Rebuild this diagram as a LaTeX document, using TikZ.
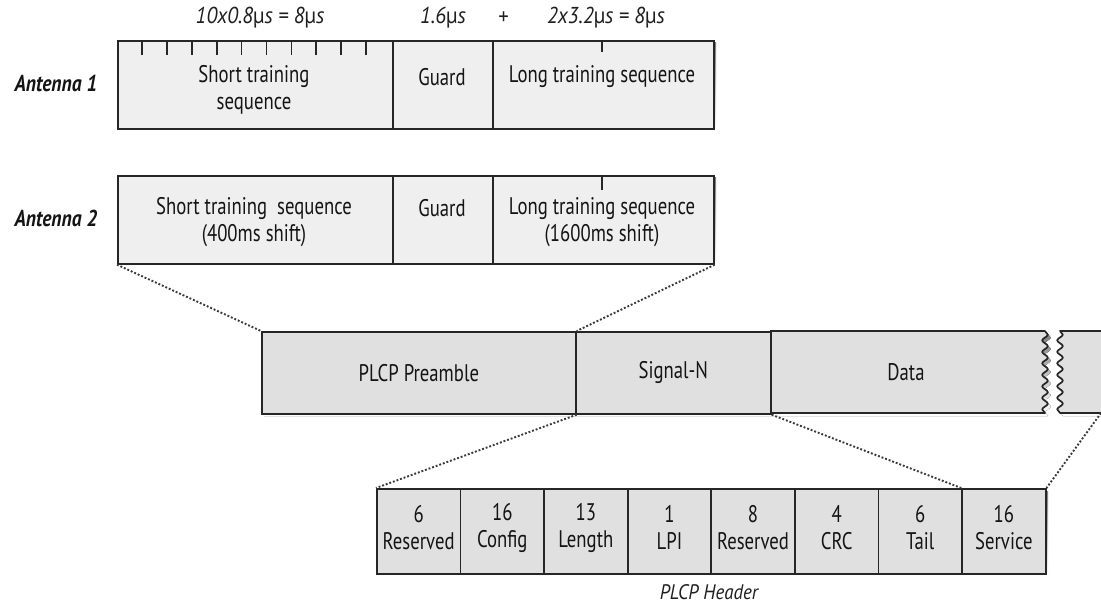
\documentclass[tikz,border=0pt]{standalone}
\usepackage{fontspec}
\setmainfont{PT Sans}[FakeStretch=0.78]
\newfontfamily\labfont{PT Sans}[FakeStretch=0.9]
\newfontfamily\antfont{PT Sans}[FakeStretch=0.85]
\usetikzlibrary{decorations.pathmorphing}
\definecolor{edge}{HTML}{262626}
\definecolor{afill}{HTML}{EFEFEF}
\definecolor{mfill}{HTML}{E0E0E0}
\definecolor{shade}{HTML}{B5B5B5}
\definecolor{dotc}{HTML}{3A3A3A}
\newcommand{\mus}{{\upshape µ}s}
\tikzset{
  cell/.style={draw=edge, line width=1.7pt, rectangle, inner sep=0pt, anchor=north west},
  acell/.style={cell, fill=afill},
  mcell/.style={cell, fill=mfill},
  txt/.style={font=\fontsize{24}{27}\selectfont, align=center, inner sep=0pt, text=black!92},
  toplab/.style={font=\labfont\itshape\fontsize{23}{26}\selectfont, inner sep=0pt, text=black!88},
  hdrlab/.style={font=\labfont\itshape\fontsize{21}{24}\selectfont, inner sep=0pt, text=black!88},
  antlab/.style={font=\antfont\bfseries\itshape\fontsize{23}{26}\selectfont, inner sep=0pt, text=black!92},
  zoomline/.style={dotc, line width=1.9pt, dash pattern=on 1.9pt off 1.9pt},
  tick/.style={edge, line width=1.7pt},
  wavedec/.style={decoration={snake, amplitude=2.8pt, segment length=11.5pt}},
  frame/.style={draw=edge, line width=1.7pt, line join=round},
}
\begin{document}
\begin{tikzpicture}[x=1pt,y=-1pt]
\useasboundingbox (0,0) rectangle (1101,607);
\fill[white] (0,0) rectangle (1101,607);

% ---------- top labels
\node[toplab] (t1) at (260,18) {10x0.8\mus{} = 8\mus};
\node[toplab] (t2) at (443,18) {1.6\mus};
\node[toplab] (t3) at (503,18) {+};
\node[toplab] (t4) at (606,18) {2x3.2\mus{} = 8\mus};

% ---------- Antenna 1
\fill[shade] (120,43) rectangle (716,131);
\node[acell, minimum width=275pt, minimum height=88pt] (a1s) at (117,40) {};
\node[acell, minimum width=100pt, minimum height=88pt] (a1g) at (392,40) {};
\node[acell, minimum width=221pt, minimum height=88pt] (a1l) at (492,40) {};
\foreach \i in {0,...,9} {\draw[tick] (142+24.9*\i,40) -- (142+24.9*\i,55);}
\draw[tick] (602,40) -- (602,52);
\node[txt] (a1st) at (254,90) {Short training\\sequence};
\node[txt] (a1gt) at (442,77) {Guard};
\node[txt] (a1lt) at (602,77) {Long training sequence};
\node[antlab] (ant1) at (56,83) {Antenna 1};

% ---------- Antenna 2
\fill[shade] (120,178) rectangle (716,266);
\node[acell, minimum width=275pt, minimum height=88pt] (a2s) at (117,175) {};
\node[acell, minimum width=100pt, minimum height=88pt] (a2g) at (392,175) {};
\node[acell, minimum width=221pt, minimum height=88pt] (a2l) at (492,175) {};
\draw[tick] (602,175) -- (602,190);
\node[txt] (a2st) at (254,222) {Short training\ \ sequence\\(400ms shift)};
\node[txt] (a2gt) at (442,208) {Guard};
\node[txt] (a2lt) at (602,222) {Long training sequence\\(1600ms shift)};
\node[antlab] (ant2) at (56,218) {Antenna 2};

% ---------- main frame
\coordinate (dtl) at (770,331);
\coordinate (dtr) at (1045,331);
\coordinate (dbr) at (1045,413);
\coordinate (dbl) at (770,413);
\coordinate (rtl) at (1060,331);
\coordinate (rbl) at (1060,413);
\coordinate (rtr) at (1101,331);
\coordinate (rbr) at (1101,413);
\fill[shade] (264,334) -- (1048,334) decorate[wavedec]{-- (1048,416)} -- (264,416) -- cycle;
\fill[shade] (1101,334) -- (1063,334) decorate[wavedec]{-- (1063,416)} -- (1101,416) -- cycle;
\fill[mfill] (dtl) -- (dtr) decorate[wavedec]{-- (dbr)} -- (dbl) -- cycle;
\draw[frame] (dbl) -- (dbr) decorate[wavedec]{-- (dtr)} -- (dtl);
\fill[mfill] (rtr) -- (rtl) decorate[wavedec]{-- (rbl)} -- (rbr) -- cycle;
\draw[frame] (rtr) -- (rtl) decorate[wavedec]{-- (rbl)} -- (rbr);
\node[mcell, minimum width=314pt, minimum height=82pt] (plcp) at (261,331) {};
\node[mcell, minimum width=195pt, minimum height=82pt] (sig) at (575,331) {};
\node[txt] (plcpt) at (plcp.center) {PLCP Preamble};
\node[txt] (sigt) at (sig.center) {Signal-N};
\node[txt] (datat) at (906,372) {Data};

% ---------- PLCP header
\fill[shade] (379,491) rectangle (1048,576);
\foreach \n/\lab [count=\k from 0] in {6/Reserved,16/Config,13/Length,1/LPI,8/Reserved,4/CRC,6/Tail,16/Service} {
  \node[mcell, minimum width=83.6pt, minimum height=85pt] (h\k) at (376+83.6*\k,488) {};
  \node[txt] (ht\k) at ([yshift=3.5pt]h\k.center) {\n\\\lab};
}
\node[hdrlab] (hdr) at (709,592) {PLCP Header};

% ---------- zoom lines
\draw[zoomline] (a2s.south west) -- (plcp.north west);
\draw[zoomline] (a2l.south east) -- (plcp.north east);
\draw[zoomline] (plcp.south east) -- (h0.north west);
\draw[zoomline] (sig.south east) -- (h7.north west);
\draw[zoomline] (rbr) -- (h7.north east);
\end{tikzpicture}
\end{document}
